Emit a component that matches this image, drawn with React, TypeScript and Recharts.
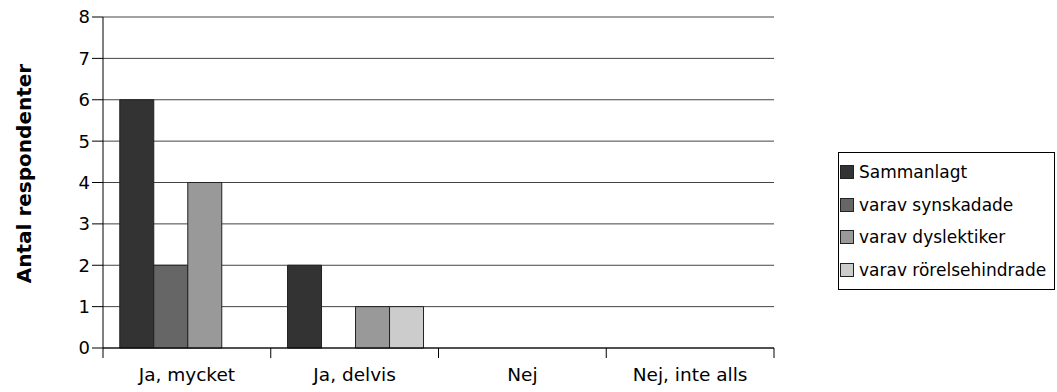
import React from 'react';
import { BarChart, Bar, XAxis, YAxis, CartesianGrid, Legend, Label } from 'recharts';

const categories = ['Ja, mycket', 'Ja, delvis', 'Nej', 'Nej, inte alls'];
const sammanlagt = [6, 2, 0, 0];
const synskadade = [2, 0, 0, 0];
const dyslektiker = [4, 1, 0, 0];
const rorelsehindrade = [0, 1, 0, 0];
const yTicks = [0, 1, 2, 3, 4, 5, 6, 7, 8];

const seriesDefs = [
  { key: 'sammanlagt', name: 'Sammanlagt', color: '#333333' },
  { key: 'synskadade', name: 'varav synskadade', color: '#666666' },
  { key: 'dyslektiker', name: 'varav dyslektiker', color: '#999999' },
  { key: 'rorelsehindrade', name: 'varav rörelsehindrade', color: '#cccccc' },
];

const data = categories.map((c, i) => ({
  name: c,
  sammanlagt: sammanlagt[i],
  synskadade: synskadade[i],
  dyslektiker: dyslektiker[i],
  rorelsehindrade: rorelsehindrade[i],
}));

const FONT = '"DejaVu Sans", Verdana, sans-serif';

const CategoryTick = (props: any) => {
  const { x, y, payload, index } = props;
  const half = payload && payload.offset ? payload.offset : 84;
  const last = index === categories.length - 1;
  return (
    <g>
      <line x1={x - half} y1={y - 8} x2={x - half} y2={y + 2} stroke="#000" />
      {last && <line x1={x + half} y1={y - 8} x2={x + half} y2={y + 2} stroke="#000" />}
      <text x={x} y={y + 25} textAnchor="middle" fontSize={18.5} fill="#000" fontFamily={FONT}>
        {payload.value}
      </text>
    </g>
  );
};

const AxisTitle = (props: any) => {
  const vb = props.viewBox || { y: 17, height: 331 };
  const cx = 24;
  const cy = vb.y + vb.height / 2 - 9;
  return (
    <text
      x={cx}
      y={cy}
      dy="0.35em"
      transform={`rotate(-90, ${cx}, ${cy})`}
      textAnchor="middle"
      fontSize={20}
      fontWeight="bold"
      fill="#000"
      fontFamily={FONT}
    >
      Antal respondenter
    </text>
  );
};

const LegendBox = () => (
  <div
    style={{
      border: '1px solid #000',
      width: 214,
      padding: '3px 0 3px 1px',
      background: '#fff',
      fontFamily: FONT,
      fontSize: 17,
      color: '#000',
      boxSizing: 'content-box',
    }}
  >
    {seriesDefs.map((s) => (
      <div key={s.key} style={{ display: 'flex', alignItems: 'center', height: 32.5, whiteSpace: 'nowrap' }}>
        <span
          style={{
            display: 'inline-block',
            width: 12,
            height: 12,
            background: s.color,
            border: '1px solid #222',
            marginRight: 5,
            flexShrink: 0,
          }}
        />
        <span>{s.name}</span>
      </div>
    ))}
  </div>
);

const App: React.FC = () => {
  return (
    <div style={{ position: 'absolute', left: 0, top: 0, background: '#fff' }}>
      <BarChart
        width={1057}
        height={392}
        data={data}
        margin={{ top: 17, right: 67, left: 0, bottom: 14 }}
        barCategoryGap="10%"
        barGap={0}
      >
        <CartesianGrid vertical={false} stroke="#444" />
        <XAxis
          dataKey="name"
          stroke="#000"
          tickLine={false}
          height={30}
          interval={0}
          tick={<CategoryTick />}
        />
        <YAxis
          domain={[0, 8]}
          ticks={yTicks}
          interval={0}
          width={103}
          stroke="#000"
          tickSize={11}
          tick={{ fontSize: 18, fill: '#000', fontFamily: FONT }}
        >
          <Label content={<AxisTitle />} />
        </YAxis>
        <Legend
          layout="vertical"
          align="right"
          verticalAlign="top"
          content={<LegendBox />}
          wrapperStyle={{ right: 3, top: 152, width: 216 }}
        />
        {seriesDefs.map((s) => (
          <Bar
            key={s.key}
            dataKey={s.key}
            name={s.name}
            fill={s.color}
            stroke="#222"
            strokeWidth={1}
            isAnimationActive={false}
          />
        ))}
      </BarChart>
    </div>
  );
};

export default App;
